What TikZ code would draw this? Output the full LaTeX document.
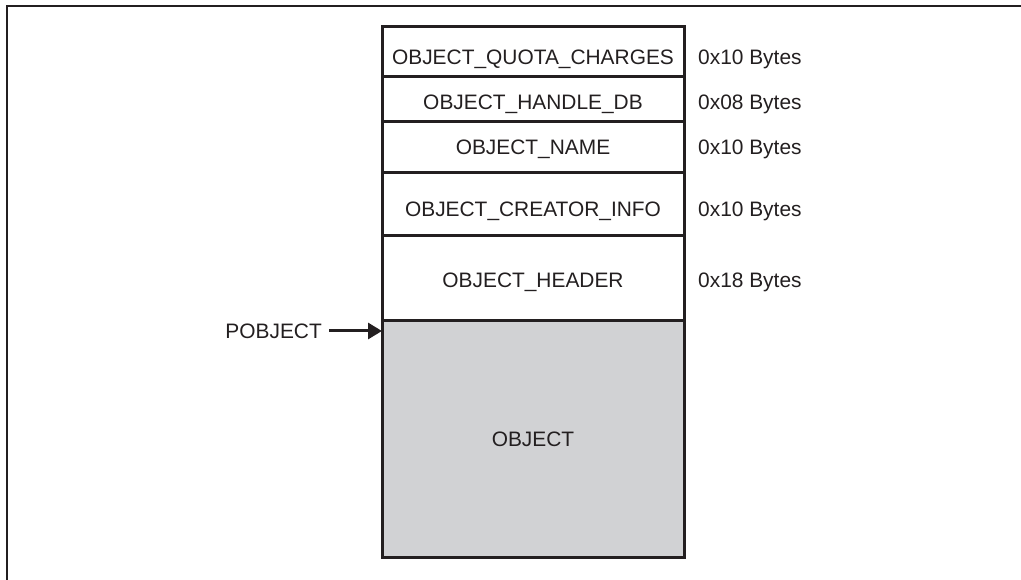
\documentclass[tikz,border=0pt]{standalone}
\usepackage{fontspec}
\setmainfont{Liberation Sans}
\usetikzlibrary{positioning,arrows.meta}
\definecolor{ink}{HTML}{231F20}
\definecolor{objgray}{HTML}{D1D2D4}

\begin{document}
\begin{tikzpicture}[x=1pt, y=-1pt,
                    every node/.style={font=\fontsize{20.9}{24}\selectfont, text=ink},
                    field/.style={draw=ink, line width=3pt, minimum width=302pt,
                                  inner sep=0pt, outer sep=0pt,
                                  text height=15pt, text depth=0pt},
                    size/.style={anchor=base west, inner sep=0pt}]
  \useasboundingbox (0,0) rectangle (1021,580);
  % frame
  \draw[ink, line width=2pt] (1021,6) -- (7,6) -- (7,580);

  % header parts, top to bottom
  \node[field, minimum height=50pt, text height=25pt, anchor=north west] (quota) at (382,27) {OBJECT\_QUOTA\_CHARGES};
  \node[field, minimum height=45pt, text height=20pt, below=0pt of quota] (handle) {OBJECT\_HANDLE\_DB};
  \node[field, minimum height=51pt, below=0pt of handle] (name) {OBJECT\_NAME};
  \node[field, minimum height=63pt, text height=24pt, below=0pt of name] (creator) {OBJECT\_CREATOR\_INFO};
  \node[field, minimum height=85pt, text height=18pt, below=0pt of creator] (header) {OBJECT\_HEADER};
  \node[field, minimum height=236pt, fill=objgray, below=0pt of header] (obj) {OBJECT};

  % sizes
  \node[size] at ([xshift=14pt]quota.base east) {0x10 Bytes};
  \node[size] at ([xshift=14pt]handle.base east) {0x08 Bytes};
  \node[size] at ([xshift=14pt]name.base east) {0x10 Bytes};
  \node[size] at ([xshift=14pt]creator.base east) {0x10 Bytes};
  \node[size] at ([xshift=14pt]header.base east) {0x18 Bytes};

  % pointer
  \coordinate (ptr) at ([yshift=-10pt]obj.north west);
  \node[anchor=east, inner sep=0pt] (pobj) at ([xshift=-60pt]ptr) {POBJECT};
  \draw[ink, line width=3pt, shorten <=7pt, -{Triangle[length=14pt,width=16pt]}] (pobj.east) -- (ptr);
\end{tikzpicture}
\end{document}
